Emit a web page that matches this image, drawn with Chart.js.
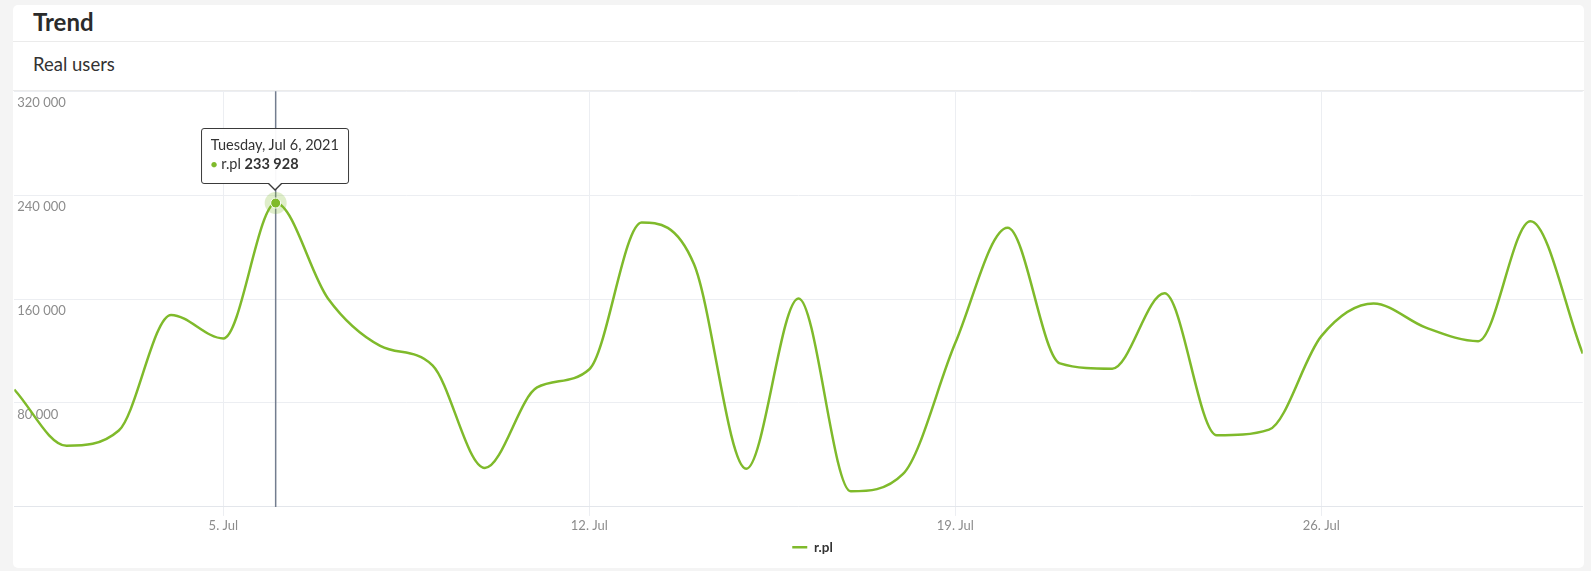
<!DOCTYPE html>
<html>
<head>
<meta charset="utf-8">
<title>Trend</title>
<script src="https://cdn.jsdelivr.net/npm/chart.js@4.4.0/dist/chart.umd.min.js"></script>
<style>
  html, body { margin: 0; padding: 0; background: #f4f4f4; font-family: Lato, sans-serif; }
  .card { position: absolute; left: 13px; top: 5px; width: 1571px; height: 563px; background: #fff; border-radius: 5px; overflow: hidden; }
  .card-title { height: 36px; line-height: 34px; padding-left: 20px; border-bottom: 1px solid #ebebeb; font-size: 24px; font-weight: bold; color: #2b2b2b; }
  .card-sub { height: 48px; line-height: 44px; padding-left: 20px; border-bottom: 1px solid #ebebeb; font-size: 18.5px; color: #333; }
  .chart-wrap { position: absolute; left: 0; top: 85px; width: 1571px; height: 478px; }
  #tip { position: absolute; pointer-events: none; opacity: 0; transform: translate(-50%, calc(-100% - 19px));
         background: rgba(255,255,255,0.95); border: 1px solid #3a3a3a; border-radius: 3px; padding: 6px 9px 9px 9px;
         font-size: 14.5px; color: #333; white-space: nowrap; line-height: 19px; }
  #tip::before, #tip::after { content: ''; position: absolute; left: 50%; width: 0; height: 0; border-style: solid; }
  #tip::before { bottom: -8px; margin-left: -8px; border-width: 8px 8px 0 8px; border-color: #3a3a3a transparent transparent transparent; }
  #tip::after { bottom: -6px; margin-left: -7px; border-width: 7px 7px 0 7px; border-color: #fff transparent transparent transparent; }
  #tip .dot { color: #7fba2b; font-size: 11px; position: relative; top: -1px; }
  #tip b { font-weight: bold; }
</style>
</head>
<body>
<div class="card">
  <div class="card-title">Trend</div>
  <div class="card-sub">Real users</div>
  <div class="chart-wrap">
    <canvas id="trendChart"></canvas>
    <div id="tip"><div class="tip-title"></div><div><span class="dot">●</span> r.pl <b class="tip-value"></b></div></div>
  </div>
</div>
<script>
// July 2021, one point per day
const days = [1, 2, 3, 4, 5, 6, 7, 8, 9, 10, 11, 12, 13, 14, 15, 16,
              17, 18, 19, 20, 21, 22, 23, 24, 25, 26, 27, 28, 29, 30, 31];
const users = [90400, 47100, 58800, 147800, 129700, 233928, 160500, 124000, 109000, 30000, 92000,
               106000, 219000, 187000, 29300, 160500, 12000, 25400, 126300, 214900, 110500,
               106400, 164400, 55100, 59500, 131500, 156600, 138000, 127600, 220000, 118000];
const tickDays = [5, 12, 19, 26];
const monthName = 'Jul';
const seriesName = 'r.pl';
const hoverIndex = 5;

const green = '#7fba2b';
const gridColor = '#eceef2';
const labelGrey = '#8c8c8c';

const fmt = v => Math.round(v).toString().replace(/\B(?=(\d{3})+(?!\d))/g, ' ');
const dateLabel = d => new Date(2021, 6, d).toLocaleDateString('en-US',
    { weekday: 'long', month: 'short', day: 'numeric', year: 'numeric' });

Chart.defaults.font.family = 'Lato, sans-serif';

// vertical hover line + halo behind the hovered point
const crosshair = {
    id: 'crosshair',
    beforeDatasetsDraw(chart) {
        const active = chart.getActiveElements();
        if (!active.length) return;
        const el = active[0].element;
        const { top, bottom } = chart.chartArea;
        const ctx = chart.ctx;
        ctx.save();
        ctx.strokeStyle = '#737d8f';
        ctx.lineWidth = 1.5;
        ctx.beginPath();
        ctx.moveTo(el.x, top);
        ctx.lineTo(el.x, bottom);
        ctx.stroke();
        ctx.fillStyle = 'rgba(127,186,43,0.25)';
        ctx.beginPath();
        ctx.arc(el.x, el.y, 11, 0, Math.PI * 2);
        ctx.fill();
        ctx.restore();
    }
};

// nudge the legend a little to the right, like the original
const legendShift = {
    id: 'legendShift',
    afterLayout(chart) {
        if (!chart.legend) return;
        chart.legend.left += 14;
        chart.legend.right += 14;
    }
};

function renderTooltip(context) {
    const { tooltip } = context;
    const tip = document.getElementById('tip');
    if (tooltip.opacity === 0 || !tooltip.dataPoints || !tooltip.dataPoints.length) {
        tip.style.opacity = 0;
        return;
    }
    const p = tooltip.dataPoints[0];
    tip.querySelector('.tip-title').textContent = dateLabel(days[p.dataIndex]);
    tip.querySelector('.tip-value').textContent = fmt(p.parsed.y);
    tip.style.left = tooltip.caretX + 'px';
    tip.style.top = tooltip.caretY + 'px';
    tip.style.opacity = 1;
}

const ctx = document.getElementById('trendChart').getContext('2d');
const chart = new Chart(ctx, {
    type: 'line',
    data: {
        datasets: [{
            label: seriesName,
            data: days.map((d, i) => ({ x: d, y: users[i] })),
            borderColor: green,
            backgroundColor: green,
            borderWidth: 2.5,
            cubicInterpolationMode: 'monotone',
            pointRadius: 0,
            pointHoverRadius: 5,
            pointHoverBackgroundColor: green,
            pointHoverBorderColor: '#ffffff',
            pointHoverBorderWidth: 1
        }]
    },
    options: {
        responsive: true,
        maintainAspectRatio: false,
        animation: false,
        events: [],
        layout: { padding: { top: 1, bottom: 4 } },
        scales: {
            x: {
                type: 'linear',
                min: 1,
                max: 31,
                afterBuildTicks: axis => { axis.ticks = tickDays.map(v => ({ value: v })); },
                grid: { color: gridColor, tickLength: 9 },
                border: { color: '#e3e6eb' },
                ticks: {
                    color: labelGrey,
                    font: { size: 13 },
                    padding: 2,
                    maxRotation: 0,
                    autoSkip: false,
                    callback: v => v + '. ' + monthName
                }
            },
            y: {
                min: 0,
                max: 320000,
                afterFit: axis => {
                    axis.width = 0;
                    axis.paddingTop = 0;
                    axis.paddingBottom = 0;
                },
                grid: { color: gridColor, drawTicks: false },
                border: { display: false },
                ticks: {
                    mirror: true,
                    padding: 3,
                    labelOffset: 12,
                    stepSize: 80000,
                    color: labelGrey,
                    font: { size: 13 },
                    callback: v => v === 0 ? '' : fmt(v)
                }
            }
        },
        plugins: {
            legend: {
                position: 'bottom',
                labels: {
                    usePointStyle: true,
                    pointStyle: 'line',
                    pointStyleWidth: 15,
                    boxHeight: 13,
                    padding: 5,
                    color: '#333',
                    font: { size: 13.5, weight: 'bold' }
                }
            },
            tooltip: {
                enabled: false,
                mode: 'nearest',
                intersect: false,
                external: renderTooltip
            }
        }
    },
    plugins: [crosshair, legendShift]
});

chart.setActiveElements([{ datasetIndex: 0, index: hoverIndex }]);
chart.tooltip.setActiveElements([{ datasetIndex: 0, index: hoverIndex }], { x: 0, y: 0 });
chart.update('none');
</script>
</body>
</html>
